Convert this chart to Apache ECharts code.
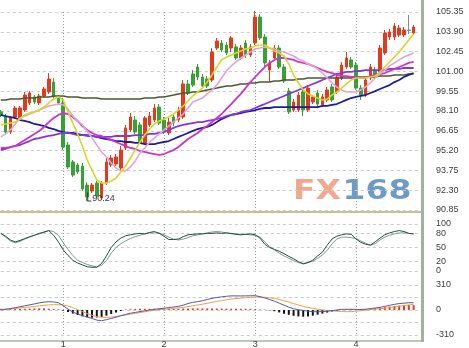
<!DOCTYPE html>
<html><head><meta charset="utf-8">
<script src="https://cdn.jsdelivr.net/npm/echarts@6/dist/echarts.min.js"></script>
<style>html,body{margin:0;padding:0;background:#fff;}#c{width:469px;height:348px;}</style>
</head><body><div id="c"></div>
<script>
const monthIdx = [13, 34, 53, 74];
const monthText = ['1', '2', '3', '4'];
const candles = [
 [98.03,97.81,97.66,98.17],[97.66,96.56,96.42,97.88],[96.56,97.59,96.42,97.73],[97.66,98.32,97.51,98.47],
 [97.59,98.32,97.44,98.47],[98.17,99.27,98.03,99.49],[98.69,99.42,98.54,99.56],[99.13,98.76,98.61,99.27],
 [98.69,99.20,98.54,99.35],[99.20,99.71,99.05,99.86],[99.49,100.44,99.35,100.88],[100.22,99.13,98.98,100.52],
 [99.13,98.69,98.54,99.27],[98.69,95.46,95.24,99.05],[95.61,94.00,93.85,95.83],[94.37,93.41,93.27,94.51],
 [94.15,93.63,93.49,94.29],[94.07,92.39,92.24,94.29],[92.68,91.80,91.51,92.90],[92.24,92.68,92.10,92.83],
 [92.83,91.88,91.73,92.97],[91.73,92.83,91.58,92.97],[92.83,94.37,92.68,94.66],[94.15,94.66,94.00,94.88],
 [94.22,94.73,94.07,94.95],[93.93,95.24,93.78,95.54],[95.39,96.86,95.24,97.08],[96.71,97.66,96.56,97.95],
 [97.44,96.56,96.42,97.73],[97.08,95.83,95.68,97.29],[95.76,97.59,95.61,97.73],[97.08,97.73,96.93,98.03],
 [97.44,98.32,97.29,98.61],[98.39,97.22,97.08,98.61],[97.44,96.56,96.42,97.66],[96.49,97.29,96.34,97.59],
 [97.66,97.22,97.00,97.88],[97.44,98.17,97.29,98.39],[97.66,100.08,97.51,100.37],[100.08,99.42,99.27,100.37],
 [100.81,100.00,99.86,101.10],[101.32,100.59,100.37,101.54],[100.59,99.93,99.78,100.81],[100.44,99.93,99.78,100.66],
 [100.37,102.42,100.22,102.71],[102.71,103.23,102.57,103.45],[103.08,102.57,102.42,103.30],[102.93,102.35,102.20,103.15],
 [102.71,103.45,102.42,103.59],[102.79,101.98,101.84,103.01],[101.98,102.71,101.84,102.93],[103.08,102.20,101.98,103.30],
 [102.20,102.79,102.05,103.01],[103.08,104.98,102.93,105.42],[104.98,103.45,103.30,105.20],[103.52,101.62,101.40,103.74],
 [101.10,101.62,100.22,101.84],[101.98,102.71,101.76,102.93],[102.71,101.32,101.18,102.93],[101.32,100.30,100.15,101.54],
 [99.56,98.03,97.88,99.78],[98.17,98.76,98.03,98.98],[98.17,99.27,98.03,99.49],[99.49,98.17,97.73,99.71],
 [98.17,99.78,98.03,100.00],[98.76,99.13,98.61,99.27],[99.42,98.61,98.32,99.64],[98.54,99.13,98.39,99.35],
 [98.91,99.64,98.76,99.86],[99.86,98.91,98.76,100.08],[99.49,100.59,99.35,100.88],[100.52,101.47,100.37,101.69],
 [101.32,101.98,101.18,102.42],[101.84,101.32,101.18,102.05],[101.47,99.78,99.64,101.69],[99.78,99.27,98.91,100.00],
 [99.27,100.37,99.13,100.59],[100.52,101.32,100.37,101.54],[101.10,100.59,100.44,101.32],[100.96,102.71,100.81,102.93],
 [102.35,103.81,102.20,104.03],[103.52,103.89,103.30,104.11],[103.52,104.32,103.30,104.54],[103.67,104.18,103.52,104.40],
 [103.67,104.03,103.52,104.25],[104.03,104.00,103.74,105.13],[103.81,104.25,103.67,104.40]
];
const grayIdx = 85;
const lowIndex = 18;
const lowLabel = '90.24';
const maYellow = [97.08,97.15,97.22,97.29,97.51,97.81,97.95,98.03,98.17,98.39,
 98.69,98.98,99.13,98.91,98.03,97.22,96.42,95.54,94.51,93.78,
 93.05,92.83,92.83,92.97,93.19,93.63,94.07,94.66,95.24,95.83,
 96.34,96.78,97.15,97.37,97.51,97.66,97.88,98.17,98.47,98.83,
 99.20,99.49,99.78,100.22,100.74,101.32,101.84,102.05,102.20,102.35,
 102.49,102.64,102.71,102.86,102.93,102.93,102.71,102.49,102.35,102.13,
 101.54,100.74,100.15,99.64,99.35,99.20,99.05,98.91,98.98,99.27,
 99.49,99.78,100.08,100.37,100.52,100.52,100.52,100.59,100.66,100.96,
 101.32,101.69,102.05,102.42,102.86,103.30,103.74];
const maPink = [96.20,96.42,96.71,97.15,97.59,97.73,97.88,98.03,98.17,98.32,
 98.47,98.54,98.61,98.54,98.25,97.73,97.37,97.08,96.64,96.12,
 95.61,95.10,94.73,94.29,93.93,93.71,93.71,94.00,94.44,95.02,
 95.39,95.83,96.12,96.42,96.71,97.00,97.29,97.59,97.88,98.32,
 98.76,98.91,99.05,99.35,99.64,100.00,100.52,101.03,101.40,101.69,
 101.98,102.20,102.42,102.64,102.71,102.79,102.71,102.64,102.49,102.42,
 102.27,102.13,101.91,101.76,101.54,101.40,101.18,100.88,100.52,100.15,
 99.86,99.64,99.49,99.49,99.49,99.64,99.86,100.15,100.52,100.81,
 101.10,101.40,101.62,101.84,102.05,102.20,102.35];
const maMagenta = [95.39,95.39,95.46,95.54,95.76,95.98,96.20,96.42,96.64,96.93,
 97.29,97.59,97.81,97.95,97.88,97.66,97.37,97.00,96.71,96.49,
 96.34,96.27,96.12,95.98,95.83,95.68,95.54,95.39,95.32,95.17,
 95.10,95.02,94.95,94.88,94.95,95.10,95.24,95.46,95.76,96.05,
 96.27,96.49,96.78,97.00,97.29,97.59,97.88,98.25,98.61,98.98,
 99.35,99.78,100.22,100.59,100.96,101.32,101.62,101.84,101.98,101.98,
 101.91,101.84,101.69,101.62,101.54,101.40,101.25,101.10,100.96,100.88,
 100.74,100.66,100.66,100.59,100.59,100.52,100.52,100.66,100.74,100.81,
 100.88,101.03,101.18,101.32,101.47,101.62,101.69];
const maViolet = [95.24,95.32,95.46,95.54,95.61,95.76,95.90,96.05,96.12,96.20,
 96.27,96.34,96.42,96.49,96.49,96.42,96.34,96.34,96.27,96.27,
 96.20,96.20,96.20,96.20,96.27,96.27,96.27,96.27,96.34,96.34,
 96.34,96.42,96.42,96.49,96.56,96.71,96.86,97.00,97.08,97.15,
 97.22,97.29,97.29,97.37,97.44,97.51,97.59,97.73,97.81,97.88,
 98.03,98.10,98.17,98.32,98.47,98.61,98.76,98.91,99.05,99.20,
 99.35,99.49,99.64,99.78,99.93,100.08,100.22,100.37,100.52,100.66,
 100.81,100.88,100.96,100.96,101.03,101.03,101.10,101.10,101.10,101.10,
 101.10,101.18,101.18,101.18,101.25,101.25,101.25];
const maNavy = [97.81,97.73,97.66,97.59,97.44,97.37,97.29,97.15,97.08,97.00,
 96.86,96.78,96.64,96.56,96.49,96.49,96.42,96.34,96.34,96.27,
 96.20,96.12,96.05,95.98,95.90,95.90,95.83,95.83,95.76,95.76,
 95.68,95.68,95.68,95.76,95.83,95.90,96.05,96.20,96.34,96.49,
 96.64,96.78,96.86,96.93,97.08,97.29,97.51,97.66,97.81,97.88,
 97.95,98.03,98.10,98.17,98.25,98.32,98.32,98.39,98.39,98.39,
 98.39,98.39,98.39,98.39,98.39,98.39,98.39,98.47,98.47,98.54,
 98.61,98.76,98.91,99.05,99.13,99.20,99.27,99.42,99.56,99.71,
 99.86,100.00,100.22,100.37,100.59,100.74,100.88];
const maOlive = [98.91,98.91,98.98,98.98,98.98,99.05,99.05,99.05,99.13,99.13,
 99.13,99.20,99.20,99.20,99.13,99.13,99.13,99.05,99.05,99.05,
 99.05,98.98,98.98,98.98,98.98,98.98,98.98,98.98,98.98,98.98,
 99.05,99.05,99.05,99.13,99.13,99.20,99.27,99.35,99.42,99.42,
 99.49,99.49,99.56,99.64,99.71,99.78,99.86,99.93,99.93,100.00,
 100.08,100.08,100.15,100.15,100.22,100.22,100.22,100.30,100.30,100.37,
 100.37,100.37,100.44,100.44,100.52,100.52,100.52,100.52,100.52,100.52,
 100.52,100.52,100.52,100.52,100.59,100.59,100.59,100.59,100.59,100.66,
 100.66,100.66,100.74,100.74,100.74,100.81,100.81];
const stochK = [80,74,66,62,65,69,73,76,80,83,
 86,76,62,45,33,23,17,13,9,8,
 8,16,32,50,62,70,75,77,79,80,
 79,82,84,80,74,67,67,68,73,77,
 78,79,79,80,80,81,80,81,80,78,
 77,78,79,77,70,57,50,46,42,37,
 31,26,20,15,18,23,32,40,55,68,
 74,77,79,78,68,61,57,55,62,70,
 77,81,84,86,84,80,79];
const stochD = [80,72,64,60,63,68,72,76,79,82,
 86,84,76,60,46,33,23,18,14,11,
 9,12,22,38,50,58,64,69,73,76,
 79,81,81,81,77,72,68,66,68,71,
 75,77,79,81,83,84,83,81,79,79,
 78,78,77,76,72,62,52,45,38,32,
 27,22,18,16,18,21,27,34,44,58,
 68,72,72,71,69,64,59,55,58,66,
 72,76,79,81,81,80,79];
const stochTicks = [0, 20, 50, 80, 100];
const macdDif = [0,8,18,28,40,52,64,75,88,98,
 103,100,90,55,10,-25,-50,-70,-88,-105,
 -125,-133,-120,-105,-90,-70,-55,-40,-30,-20,
 -10,0,8,15,22,30,38,45,60,80,
 95,103,115,130,145,155,163,170,175,175,
 174,175,176,178,165,150,130,110,85,60,
 35,15,3,-5,-15,-20,-22,-20,-15,-8,
 0,8,9,9,8,5,10,18,25,33,
 45,58,70,80,85,90,91];
const macdDea = [5,10,15,20,25,32,38,45,52,58,
 63,66,66,62,50,30,5,-20,-45,-65,
 -82,-91,-92,-88,-80,-72,-62,-52,-42,-32,
 -22,-12,-5,2,8,14,21,27,33,42,
 52,62,72,83,95,106,116,126,135,142,
 148,153,157,160,160,157,152,145,130,115,
 98,80,62,45,32,20,10,2,-5,-10,
 -15,-19,-21,-20,-15,-8,-2,4,10,16,
 22,30,38,46,55,63,71];
const macdHist = [15,15,15,12,12,15,18,20,20,18,15,12,8,
 -8,-25,-45,-62,-78,-90,-95,-92,-85,-70,-50,-30,-12,
 6,10,12,14,15,16,16,16,15,15,15,16,18,20,20,20,20,20,20,18,18,16,16,15,15,14,12,10,6,4,
 -5,-15,-30,-45,-60,-72,-80,-83,-80,-70,-58,-45,-32,-20,-8,
 5,8,10,10,10,12,15,20,28,35,42,50,55,60,62,60];
const macdTicks = [-310, 0, 310];
const macdLines = [-310, -155, 0, 155, 310];

const categories = candles.map((_, i) => 'd' + i).concat(['d' + candles.length]);

const UP = '#e4391d', DOWN = '#36a236', GRAY = '#8a8a8a';
const FONT = '"Liberation Sans", Arial, sans-serif';
const lab = {fontSize: 9, color: '#3c3c3c', fontFamily: FONT};
const hGrid = {show: true, lineStyle: {color: '#cbcbcb', type: [3, 3], width: 1}};
const vGrid = {show: true, interval: (i) => monthIdx.includes(i), lineStyle: {color: '#9a9a9a', type: [1, 2], width: 1}};

const LEFT = 0.8, RIGHT = 469 - 418.4;
const grids = [
  {left: LEFT, right: RIGHT, top: 12, height: 198, outerBoundsMode: 'none', containLabel: false},
  {left: LEFT, right: RIGHT, top: 224, height: 47, outerBoundsMode: 'none', containLabel: false},
  {left: LEFT, right: RIGHT, top: 285, height: 50, outerBoundsMode: 'none', containLabel: false}
];

function xAxisFor(gi, showLabel) {
  return {
    type: 'category', gridIndex: gi, data: categories, boundaryGap: false,
    axisLine: {show: false}, axisTick: {show: false},
    axisLabel: showLabel ? Object.assign({}, lab, {margin: 5, interval: (i) => monthIdx.includes(i),
      formatter: (v, i) => { const m = monthIdx.indexOf(i); return m >= 0 ? monthText[m] : ''; }}) : {show: false, interval: 0},
    splitLine: vGrid
  };
}

const candleData = candles.map((c, i) => i === grayIdx
  ? {value: c, itemStyle: {color: GRAY, color0: GRAY, borderColor: GRAY, borderColor0: GRAY}}
  : c);

function ma(data, color, width) {
  return {type: 'line', xAxisIndex: 0, yAxisIndex: 0, data, symbol: 'none', showSymbol: false,
    clip: false, silent: true, lineStyle: {color, width}, z: 3};
}

const option = {
  animation: false,
  backgroundColor: '#ffffff',
  grid: grids,
  xAxis: [xAxisFor(0, false), xAxisFor(1, false), xAxisFor(2, true)],
  yAxis: [
    {type: 'value', gridIndex: 0, position: 'right', min: 90.85, max: 105.35, interval: 1.45, scale: true,
     axisLine: {show: false}, axisTick: {show: false},
     axisLabel: Object.assign({}, lab, {margin: 17.5, align: 'left', formatter: (v) => v.toFixed(2)}),
     splitLine: hGrid},
    {type: 'value', gridIndex: 1, position: 'right', min: 0, max: 100,
     axisLine: {show: false}, axisTick: {show: false, customValues: stochTicks},
     axisLabel: Object.assign({}, lab, {margin: 17.5, align: 'left', customValues: stochTicks}),
     splitLine: hGrid},
    {type: 'value', gridIndex: 2, position: 'right', min: -310, max: 310,
     axisLine: {show: false}, axisTick: {show: false, customValues: macdLines},
     axisLabel: Object.assign({}, lab, {margin: 17.5, align: 'left', customValues: macdTicks}),
     splitLine: hGrid}
  ],
  series: [
    {type: 'candlestick', xAxisIndex: 0, yAxisIndex: 0, data: candleData, barWidth: 3, clip: false,
     itemStyle: {color: UP, color0: DOWN, borderColor: UP, borderColor0: DOWN, borderWidth: 1},
     markPoint: {
       silent: true, animation: false,
       symbol: 'path://M0,0L1,0L1,9L4,9L4,10L0,10Z', symbolSize: [4, 9], symbolKeepAspect: false,
       symbolOffset: [2, -4], itemStyle: {color: '#333'},
       label: Object.assign({}, lab, {show: true, position: 'right', distance: 1, offset: [0, 2], formatter: lowLabel}),
       data: [{coord: [lowIndex, candles[lowIndex][2]]}]
     }},
    ma(maOlive, '#4a5a30', 1.6),
    ma(maNavy, '#1c1c9e', 1.8),
    ma(maViolet, '#8636d8', 1.8),
    ma(maMagenta, '#cc33cc', 1.8),
    ma(maPink, '#e6a2d4', 1.6),
    ma(maYellow, '#d6d62a', 1.6),
    {type: 'line', xAxisIndex: 1, yAxisIndex: 1, data: stochD, symbol: 'none', clip: false, silent: true,
     lineStyle: {color: '#7f9a8c', width: 1}},
    {type: 'line', xAxisIndex: 1, yAxisIndex: 1, data: stochK, symbol: 'none', clip: false, silent: true,
     lineStyle: {color: '#2f4a4a', width: 1}},
    {type: 'bar', xAxisIndex: 2, yAxisIndex: 2, data: macdHist, barWidth: 2, clip: false, silent: true,
     itemStyle: {color: (p) => p.value >= 0 ? '#e23a22' : '#141414'}},
    {type: 'line', xAxisIndex: 2, yAxisIndex: 2, data: macdDea, symbol: 'none', clip: false, silent: true,
     lineStyle: {color: '#e8a444', width: 1}},
    {type: 'line', xAxisIndex: 2, yAxisIndex: 2, data: macdDif, symbol: 'none', clip: false, silent: true,
     lineStyle: {color: '#5656b4', width: 1}}
  ],
  graphic: [
    {type: 'group', x: 293, y: 192.5, scaleX: 1.27, silent: true, z: 0, children: [
      {type: 'text', x: 0, y: 0, style: {text: 'FX', font: 'bold 26px "DejaVu Sans"', fill: '#f2a88e', verticalAlign: 'middle'}},
      {type: 'text', x: 39, y: 0, style: {text: '168', font: 'bold 26px "DejaVu Sans"', fill: '#6c9cc4', verticalAlign: 'middle'}}
    ]},
    {type: 'line', silent: true, shape: {x1: 0, y1: 212, x2: 422, y2: 212}, style: {stroke: '#c2c294', lineWidth: 2}},
    {type: 'line', silent: true, shape: {x1: 0, y1: 341, x2: 422, y2: 341}, style: {stroke: '#a9b6a2', lineWidth: 1.5}},
    {type: 'rect', silent: true, shape: {x: 421, y: 0, width: 3, height: 342}, style: {fill: '#a2b29e'}}
  ]
};

const chart = echarts.init(document.getElementById('c'), null, {renderer: 'canvas'});
chart.setOption(option);
</script>
</body></html>
